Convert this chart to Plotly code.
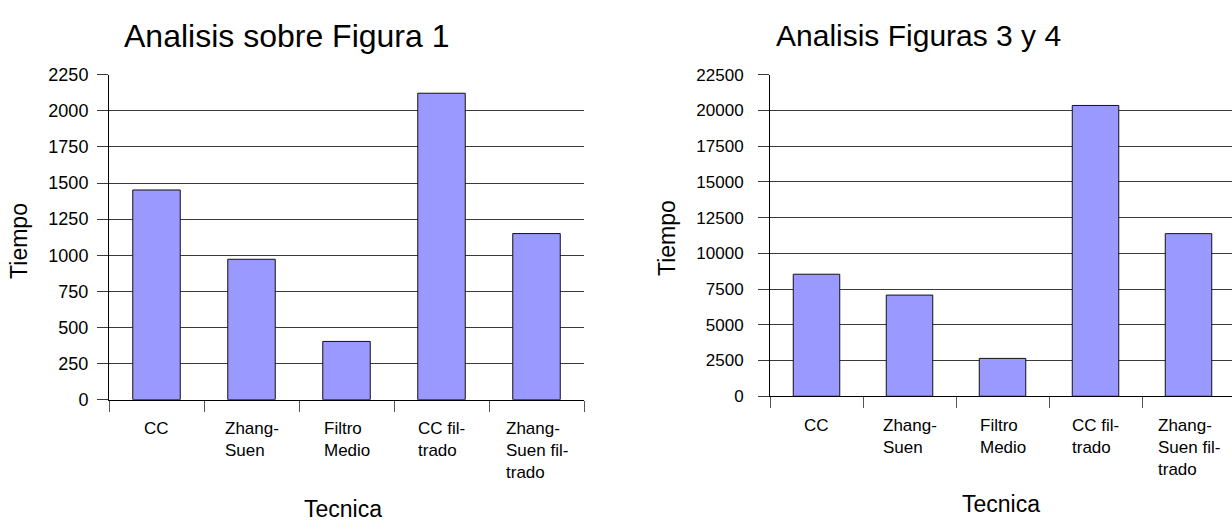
import plotly.graph_objects as go

W, H = 1232, 527

categories = ["CC", "Zhang-Suen", "Filtro Medio", "CC filtrado", "Zhang-Suen filtrado"]
tick_labels = ["CC", "Zhang-<br>Suen", "Filtro<br>Medio", "CC fil-<br>trado", "Zhang-<br>Suen fil-<br>trado"]
fig1_values = [1452, 972, 403, 2122, 1150]
fig34_values = [8540, 7080, 2650, 20350, 11380]
fig1_ticks = [0, 250, 500, 750, 1000, 1250, 1500, 1750, 2000, 2250]
fig34_ticks = [0, 2500, 5000, 7500, 10000, 12500, 15000, 17500, 20000, 22500]
title1 = "Analisis sobre Figura 1"
title2 = "Analisis Figuras 3 y 4"
ytitle = "Tiempo"
xtitle = "Tecnica"

FONT = "Liberation Sans, Arial, sans-serif"
BAR = "#9999ff"
GRID = "#3a3a3a"


def px_x(p):
    return p / W


def px_y(p):
    return 1 - p / H


fig = go.Figure()
fig.add_trace(go.Bar(x=categories, y=fig1_values, xaxis="x", yaxis="y",
                     marker=dict(color=BAR, line=dict(color="#111111", width=1)),
                     hoverinfo="x+y"))
fig.add_trace(go.Bar(x=categories, y=fig34_values, xaxis="x2", yaxis="y2",
                     marker=dict(color=BAR, line=dict(color="#111111", width=1)),
                     hoverinfo="x+y"))

common_x = dict(type="category", showgrid=False, showline=True, linecolor="#000000", linewidth=1,
                ticks="outside", tickson="boundaries", ticklen=11, tickcolor="#555555",
                showticklabels=False, zeroline=False, fixedrange=True)
common_y = dict(showgrid=True, gridcolor=GRID, gridwidth=1, showline=True, linecolor="#000000",
                linewidth=1, ticks="outside", ticklen=11, tickcolor=GRID, zeroline=False,
                tickformat="d", fixedrange=True)

fig.update_layout(
    width=W, height=H,
    margin=dict(l=0, r=0, t=0, b=0),
    paper_bgcolor="white", plot_bgcolor="white",
    showlegend=False, bargap=0.5,
    font=dict(family=FONT, color="#000000"),
    xaxis=dict(common_x, domain=[px_x(109), px_x(584)], range=[-0.5, 4.5], anchor="y"),
    yaxis=dict(common_y, domain=[px_y(405), px_y(67.3)], range=[0, 2250], tickvals=fig1_ticks,
               anchor="x", ticklabelstandoff=5,
               tickfont=dict(family=FONT, size=18, color="#000000")),
    xaxis2=dict(common_x, domain=[px_x(770), 1.0], range=[-0.5, 4.5 - 3 / 93], anchor="y2"),
    yaxis2=dict(common_y, domain=[px_y(401.5), px_y(67.3)], range=[0, 22500], tickvals=fig34_ticks,
                anchor="x2", ticklabelstandoff=11,
                tickfont=dict(family=FONT, size=17, color="#000000")),
)

ann = []
# chart titles
ann.append(dict(text=title1, x=px_x(286.5), y=px_y(27), xref="paper", yref="paper",
                xanchor="center", yanchor="middle", showarrow=False,
                font=dict(family=FONT, size=32, color="#000000")))
ann.append(dict(text=title2, x=px_x(918.5), y=px_y(27), xref="paper", yref="paper",
                xanchor="center", yanchor="middle", showarrow=False,
                font=dict(family=FONT, size=30, color="#000000")))
# category labels
for cat, lab in zip(categories, tick_labels):
    ann.append(dict(text=lab, x=cat, xref="x", y=px_y(423), yref="paper", xanchor="center",
                    yanchor="top", align="left", showarrow=False,
                    font=dict(family=FONT, size=17, color="#000000")))
    ann.append(dict(text=lab, x=cat, xref="x2", y=px_y(420), yref="paper", xanchor="center",
                    yanchor="top", align="left", showarrow=False,
                    font=dict(family=FONT, size=17, color="#000000")))
# axis titles
ann.append(dict(text=ytitle, x=px_x(19), y=px_y(240), xref="paper", yref="paper", textangle=-90,
                xanchor="center", yanchor="middle", showarrow=False,
                font=dict(family=FONT, size=23, color="#000000")))
ann.append(dict(text=ytitle, x=px_x(667), y=px_y(237), xref="paper", yref="paper", textangle=-90,
                xanchor="center", yanchor="middle", showarrow=False,
                font=dict(family=FONT, size=23, color="#000000")))
ann.append(dict(text=xtitle, x=px_x(342.5), y=px_y(519), xref="paper", yref="paper",
                xanchor="center", yanchor="middle", showarrow=False,
                font=dict(family=FONT, size=23, color="#000000")))
ann.append(dict(text=xtitle, x=px_x(1001.5), y=px_y(514), xref="paper", yref="paper",
                xanchor="center", yanchor="middle", showarrow=False,
                font=dict(family=FONT, size=23, color="#000000")))
fig.update_layout(annotations=ann)

fig.write_html("out.html", config={"displayModeBar": False},
               post_script="document.body.style.margin='0';document.body.style.overflow='hidden';")
